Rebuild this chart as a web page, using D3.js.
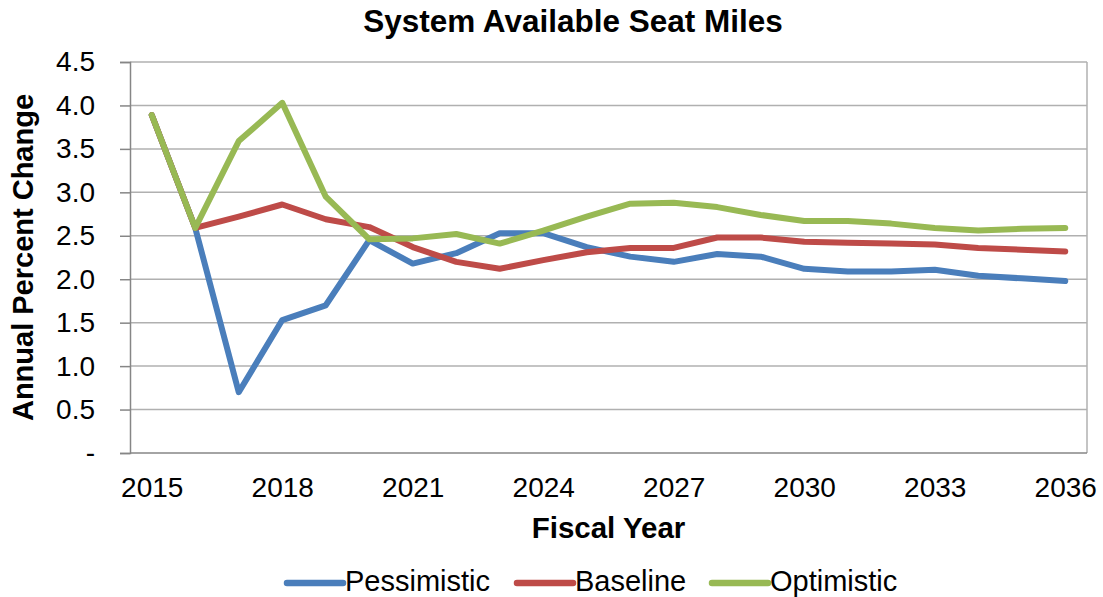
<!DOCTYPE html>
<html>
<head>
<meta charset="utf-8">
<script src="https://cdn.jsdelivr.net/npm/d3@7"></script>
<style>
  html, body { margin: 0; padding: 0; background: #fff; }
  svg { display: block; font-family: "Liberation Sans", Arial, sans-serif; }
</style>
</head>
<body>
<svg id="chart" width="1103" height="597"></svg>
<script>
const years = [2015,2016,2017,2018,2019,2020,2021,2022,2023,2024,2025,2026,2027,2028,2029,2030,2031,2032,2033,2034,2035,2036];
const pessimistic = [3.89,2.59,0.70,1.53,1.70,2.45,2.18,2.30,2.53,2.53,2.37,2.26,2.20,2.29,2.26,2.12,2.09,2.09,2.11,2.04,2.01,1.98];
const baseline    = [3.89,2.59,2.72,2.86,2.69,2.60,2.37,2.20,2.12,2.22,2.31,2.36,2.36,2.48,2.48,2.43,2.42,2.41,2.40,2.36,2.34,2.32];
const optimistic  = [3.89,2.59,3.59,4.03,2.95,2.46,2.47,2.52,2.41,2.56,2.72,2.87,2.88,2.83,2.74,2.67,2.67,2.64,2.59,2.56,2.58,2.59];
const yTicks = [0,0.5,1.0,1.5,2.0,2.5,3.0,3.5,4.0,4.5];
const xTickYears = [2015,2018,2021,2024,2027,2030,2033,2036];
const seriesNames = ["Pessimistic","Baseline","Optimistic"];
const seriesColors = ["#4a7ebb","#be4b48","#98b954"];
const seriesValues = [pessimistic, baseline, optimistic];

const svg = d3.select("#chart");
const L = 130, R = 1087, T = 62, B = 453;

const x = d3.scalePoint().domain(years).range([L, R]).padding(0.5);
const y = d3.scaleLinear().domain([0, 4.5]).range([B, T]);

// gridlines
svg.append("g").selectAll("line").data(yTicks.filter(d => d > 0)).join("line")
  .attr("x1", L).attr("x2", R)
  .attr("y1", d => y(d)).attr("y2", d => y(d))
  .attr("stroke", "#b0b0b0").attr("stroke-width", 1.5);

// right border
svg.append("line").attr("x1", R).attr("x2", R).attr("y1", T).attr("y2", B)
  .attr("stroke", "#b0b0b0").attr("stroke-width", 1.5);

// y axis
const yAxis = d3.axisLeft(y).tickValues(yTicks).tickSize(10).tickPadding(25)
  .tickFormat(d => d === 0 ? "-" : d3.format(".1f")(d));
const gy = svg.append("g").attr("transform", `translate(${L},0)`).call(yAxis);
gy.select(".domain").attr("stroke", "#868686").attr("stroke-width", 1.5);
gy.selectAll(".tick line").attr("stroke", "#868686").attr("stroke-width", 1.5);
gy.selectAll(".tick text").attr("font-size", 28).attr("fill", "#000")
  .attr("font-family", "Liberation Sans, Arial, sans-serif");

// x axis
const xAxis = d3.axisBottom(x).tickValues(xTickYears).tickSize(0).tickPadding(24);
const gx = svg.append("g").attr("transform", `translate(0,${B})`).call(xAxis);
gx.select(".domain").remove();
gx.selectAll(".tick text").attr("font-size", 28).attr("fill", "#000")
  .attr("font-family", "Liberation Sans, Arial, sans-serif");
svg.append("line").attr("x1", L).attr("x2", R).attr("y1", B).attr("y2", B)
  .attr("stroke", "#868686").attr("stroke-width", 1.5);

// lines
const line = d3.line().x((d, i) => x(years[i])).y(d => y(d));
seriesValues.forEach((vals, k) => {
  svg.append("path").datum(vals)
    .attr("d", line)
    .attr("fill", "none")
    .attr("stroke", seriesColors[k])
    .attr("stroke-width", 6)
    .attr("stroke-linejoin", "round")
    .attr("stroke-linecap", "round");
});

// title
svg.append("text").attr("x", 573).attr("y", 32).attr("text-anchor", "middle")
  .attr("font-size", 31.5).attr("font-weight", "bold").text("System Available Seat Miles");

// axis titles
svg.append("text").attr("x", (L + R) / 2).attr("y", 538).attr("text-anchor", "middle")
  .attr("font-size", 29.5).attr("font-weight", "bold").text("Fiscal Year");
svg.append("text").attr("transform", `translate(33,${(T + B) / 2}) rotate(-90)`)
  .attr("text-anchor", "middle")
  .attr("font-size", 29).attr("font-weight", "bold").text("Annual Percent Change");

// legend
const legendX = [287, 517, 712];
const lg = svg.append("g");
seriesNames.forEach((name, k) => {
  const g = lg.append("g").attr("transform", `translate(${legendX[k]},583)`);
  g.append("line").attr("x1", 0).attr("x2", 56).attr("y1", 0).attr("y2", 0)
    .attr("stroke", seriesColors[k]).attr("stroke-width", 6.5).attr("stroke-linecap", "round");
  g.append("text").attr("x", 58).attr("y", 8).attr("font-size", 29).text(name);
});
</script>
</body>
</html>
